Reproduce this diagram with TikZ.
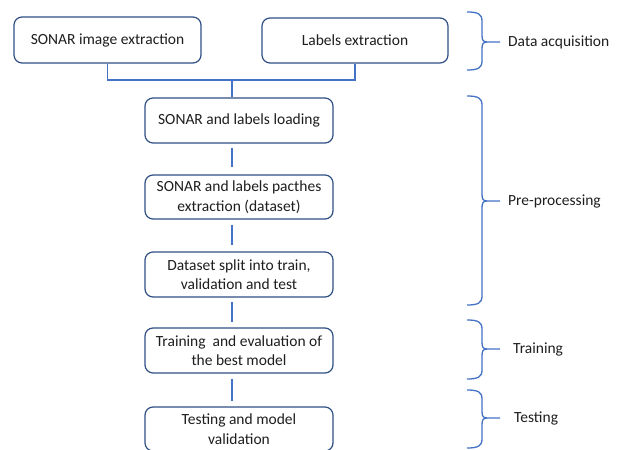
\documentclass[tikz,border=0pt]{standalone}
\usepackage{fontspec}
\setmainfont{Carlito}
\usetikzlibrary{calc}
\definecolor{boxline}{HTML}{2F4F85}
\definecolor{conline}{HTML}{4472C4}
\definecolor{txt}{HTML}{1E1E1E}
\newcommand\mybrace[3]{%
  \draw[br] (467,#1) .. controls (478,#1) and (482,#1+2) .. (482,#1+9) -- (482,#2-7) .. controls (482,#2-2) and (483,#2) .. (487,#2) -- (500,#2);
  \draw[br] (467,#3) .. controls (478,#3) and (482,#3-2) .. (482,#3-9) -- (482,#2+7) .. controls (482,#2+2) and (483,#2) .. (487,#2);
}
\begin{document}
\begin{tikzpicture}[x=1pt,y=-1pt,
  stepbox/.style={draw=boxline,line width=1.2pt,rounded corners=8pt,fill=white,
    minimum width=188pt,minimum height=45pt,align=center,inner sep=2pt,
    text=txt,font=\fontsize{15.5}{19.5}\selectfont},
  conn/.style={draw=conline,line width=1.3pt},
  br/.style={draw=conline,line width=1.3pt},
  lab/.style={anchor=west,inner sep=0pt,text=txt,font=\fontsize{15.5}{19.5}\selectfont}]
\useasboundingbox (0,0) rectangle (622,450);
\begin{scope}
\clip (0,0) rectangle (622,450);
\node[stepbox,minimum width=187pt,minimum height=46pt] (b1) at (107.5,40) {SONAR image extraction};
\node[stepbox,minimum width=186pt] (b2) at (355,40.5) {Labels extraction};
\node[stepbox] (b3) at (239,120.5) {SONAR and labels loading};
\node[stepbox,minimum height=44pt] (b4) at (239,197) {SONAR and labels pacthes\\extraction (dataset)};
\node[stepbox] (b5) at (239,274.5) {Dataset split into train,\\validation and test};
\node[stepbox] (b6) at (239,350.5) {Training~ and evaluation of\\the best model};
\node[stepbox,minimum height=44pt] (b7) at (239,429) {Testing and model\\validation};
\end{scope}
\coordinate (j) at (232,80);
\draw[conn] (b1.south) -- (b1.south |- j) -- (b2.south |- j) -- (b2.south);
\draw[conn] (j) -- (b3.north -| j);
\draw[conn] ($(b3.south)+(-7,4)$) -- ($(b4.north)+(-7,-7)$);
\draw[conn] ($(b4.south)+(-7,5)$) -- ($(b5.north)+(-7,-6)$);
\draw[conn] ($(b5.south)+(-7,4)$) -- ($(b6.north)+(-7,-5)$);
\draw[conn] ($(b6.south)+(-7,5)$) -- ($(b7.north)+(-7,-5)$);
\mybrace{12}{42}{70}
\mybrace{96}{201}{305}
\mybrace{320}{349}{379}
\mybrace{390}{418}{448}
\node[lab] (l1) at (508,42) {Data acquisition};
\node[lab] (l2) at (508,201) {Pre-processing};
\node[lab] (l3) at (513,349) {Training};
\node[lab] (l4) at (514,418) {Testing};
\end{tikzpicture}
\end{document}
